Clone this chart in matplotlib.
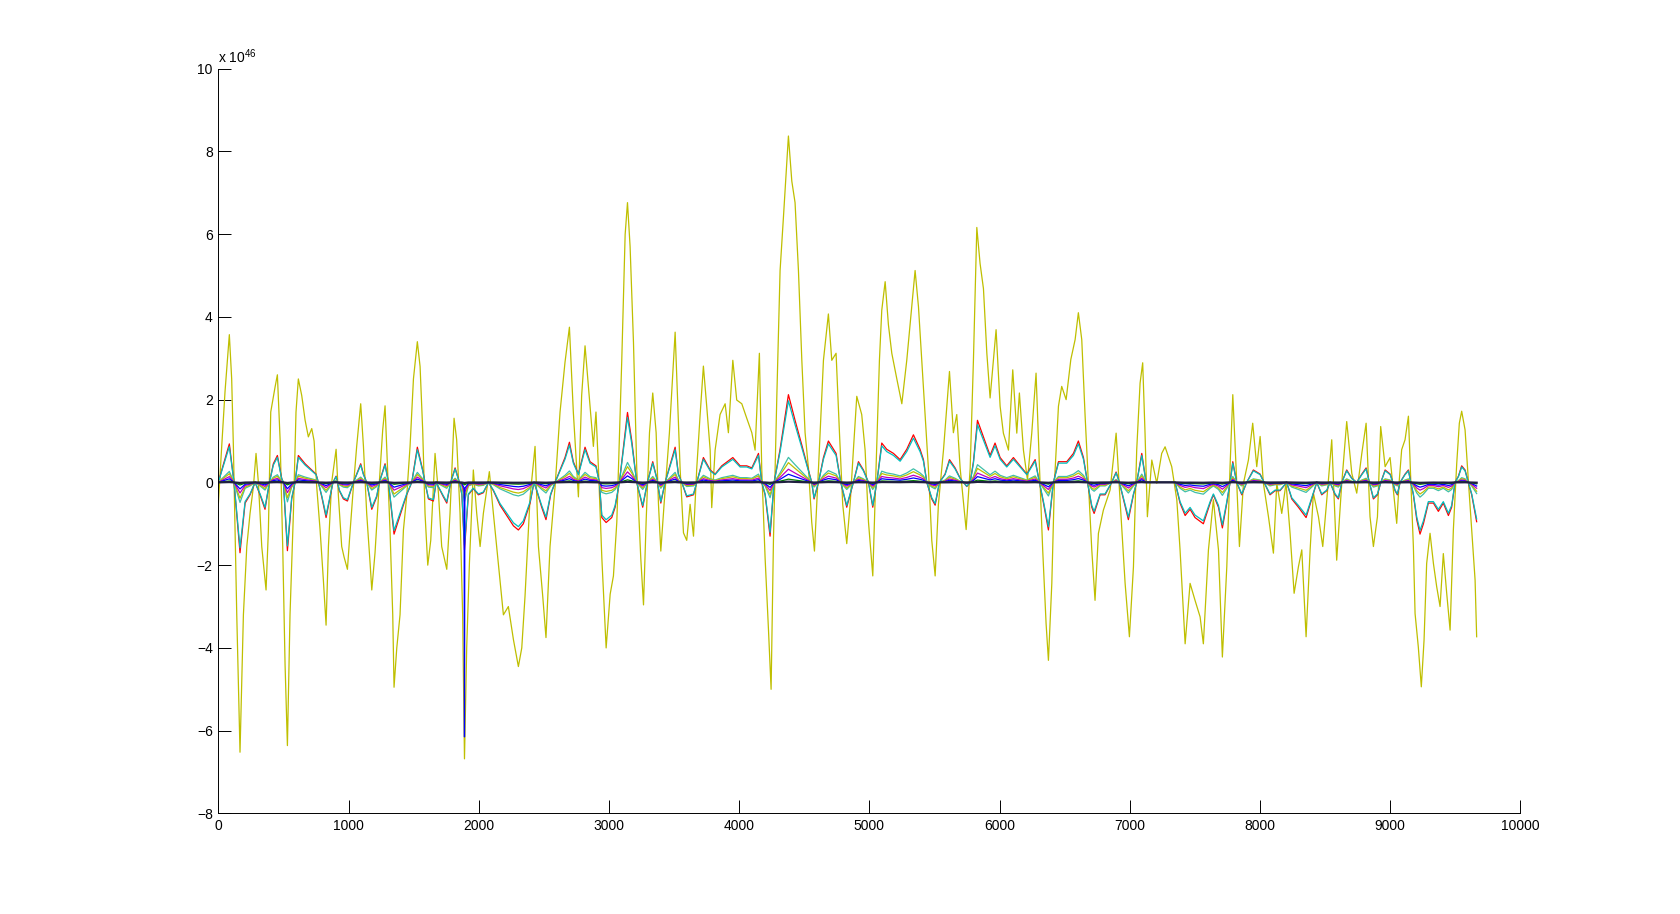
import numpy as np
import matplotlib
matplotlib.use("Agg")
import matplotlib.pyplot as plt

plt.rcParams['font.family'] = ['Liberation Sans', 'DejaVu Sans']
plt.rcParams['mathtext.default'] = 'regular'

# values are in units of 1e46

# big olive series: sample index and value
yellow_x = [0, 26, 51, 84, 102, 115, 141, 166, 192, 218, 243, 269, 289, 307, 333, 366, 384,
            402, 435, 453, 474, 494, 512, 530, 550, 576, 596, 614, 640, 666, 691, 717, 735,
            755, 781, 806, 827, 845, 870, 904, 922, 947, 965, 991, 1011, 1037, 1062, 1093,
            1114, 1139, 1165, 1178, 1203, 1236, 1262, 1280, 1298, 1318, 1339, 1349, 1370,
            1395, 1421, 1446, 1472, 1498, 1528, 1549, 1569, 1587, 1608, 1631, 1664, 1690,
            1715, 1754, 1779, 1810, 1830, 1856, 1876, 1890, 1907, 1928, 1958, 1984, 2010,
            2035, 2081, 2112, 2150, 2189, 2227, 2266, 2304, 2330, 2355, 2394, 2432, 2458,
            2491, 2516, 2547, 2586, 2624, 2662, 2696, 2726, 2765, 2790, 2816, 2842, 2880,
            2900, 2919, 2945, 2978, 3009, 3034, 3060, 3098, 3124, 3142, 3162, 3188, 3213,
            3244, 3265, 3285, 3311, 3336, 3362, 3380, 3398, 3423, 3464, 3508, 3526, 3546,
            3572, 3597, 3623, 3649, 3674, 3700, 3725, 3751, 3777, 3789, 3815, 3853, 3892,
            3917, 3951, 3981, 4020, 4058, 4097, 4122, 4155, 4173, 4199, 4225, 4245, 4263,
            4289, 4314, 4340, 4378, 4404, 4429, 4455, 4481, 4506, 4532, 4557, 4578, 4609,
            4647, 4685, 4711, 4744, 4770, 4795, 4826, 4852, 4877, 4903, 4941, 4967, 4993,
            5026, 5051, 5077, 5095, 5121, 5146, 5172, 5210, 5249, 5287, 5325, 5351, 5377,
            5402, 5428, 5453, 5479, 5505, 5530, 5569, 5615, 5645, 5671, 5697, 5743, 5774,
            5799, 5825, 5850, 5876, 5902, 5927, 5973, 6004, 6029, 6068, 6101, 6132, 6152,
            6183, 6214, 6247, 6280, 6306, 6331, 6357, 6375, 6401, 6421, 6452, 6477, 6511,
            6547, 6580, 6605, 6631, 6657, 6682, 6708, 6733, 6759, 6797, 6849, 6895, 6925,
            6964, 6997, 7028, 7053, 7079, 7099, 7117, 7135, 7169, 7207, 7245, 7271, 7322,
            7361, 7386, 7425, 7463, 7501, 7540, 7565, 7604, 7642, 7681, 7711, 7745, 7770,
            7791, 7816, 7842, 7873, 7911, 7944, 7975, 8001, 8026, 8065, 8103, 8129, 8167,
            8200, 8231, 8262, 8295, 8321, 8354, 8385, 8410, 8449, 8482, 8513, 8551, 8589,
            8628, 8666, 8705, 8743, 8782, 8815, 8845, 8871, 8902, 8927, 8961, 8999, 9024,
            9050, 9070, 9088, 9114, 9140, 9158, 9178, 9191, 9216, 9239, 9260, 9280, 9306,
            9332, 9357, 9383, 9408, 9434, 9460, 9485, 9511, 9531, 9549, 9575, 9600, 9626,
            9652, 9664]
yellow_y = [-0.5, 0.9, 2.2, 3.57, 2.5, 0.87, -3.2, -6.52, -3.2, -1.55, -0.75, -0.1, 0.7, 0.0,
            -1.55, -2.6, -1.15, 1.7, 2.3, 2.6, 1.03, -1.55, -4.4, -6.36, -3.2, -0.75, 1.7,
            2.5, 2.1, 1.5, 1.1, 1.3, 1.0, -0.1, -1.15, -2.35, -3.45, -1.55, 0.0, 0.8, -0.35,
            -1.55, -1.8, -2.1, -1.2, -0.1, 0.87, 1.9, 0.87, -0.75, -1.95, -2.6, -1.7, 0.0,
            1.27, 1.85, 0.46, -1.15, -3.2, -4.95, -4.0, -3.2, -1.15, -0.35, 0.87, 2.5, 3.4,
            2.8, 1.27, -0.75, -2.0, -1.4, 0.7, -0.26, -1.55, -2.1, -0.75, 1.55, 1.03, -0.75,
            -3.2, -6.68, -4.0, -1.95, 0.3, -0.75, -1.55, -0.75, 0.26, -0.75, -1.95, -3.2,
            -3.0, -3.8, -4.45, -4.0, -2.75, -0.35, 0.87, -1.55, -2.75, -3.75, -1.55, -0.1,
            1.7, 2.9, 3.75, 1.7, -0.35, 2.1, 3.3, 2.3, 0.87, 1.7, 0.34, -1.83, -4.0, -2.7,
            -2.26, -0.96, 2.95, 5.99, 6.76, 5.7, 3.38, 0.34, -1.83, -2.96, -0.96, 1.2, 2.16,
            1.2, -0.53, -1.66, -0.53, 1.2, 3.63, 2.08, 0.34, -1.22, -1.4, -0.53, -1.3, 0.34,
            1.64, 2.81, 1.82, 0.78, -0.61, 0.78, 1.64, 1.9, 1.2, 2.95, 1.99, 1.9, 1.55, 1.2,
            0.78, 3.12, 0.34, -1.83, -3.57, -5.0, -1.4, 2.08, 5.12, 6.42, 8.37, 7.28, 6.76,
            5.12, 2.95, 1.2, 0.34, -0.96, -1.66, 0.34, 2.95, 4.07, 2.95, 3.12, 1.2, -0.53,
            -1.48, -0.53, 0.78, 2.08, 1.64, 0.78, -0.96, -2.26, 0.34, 2.95, 4.16, 4.85, 3.81,
            3.12, 2.51, 1.9, 2.95, 4.24, 5.12, 4.24, 2.95, 1.64, 0.34, -1.4, -2.26, -0.53,
            0.78, 2.68, 1.2, 1.64, 0.34, -1.14, 0.34, 2.95, 6.16, 5.29, 4.68, 3.12, 2.04,
            3.69, 1.84, 1.19, 0.78, 2.72, 1.19, 2.16, 0.78, 0.06, 1.19, 2.64, 0.38, -1.63,
            -3.41, -4.3, -2.44, -0.02, 1.84, 2.32, 2.0, 2.97, 3.45, 4.1, 3.45, 1.59, -0.02,
            -1.63, -2.85, -1.23, -0.67, -0.18, 1.19, -0.42, -2.44, -3.73, -2.04, 0.78, 2.4,
            2.89, 1.19, -0.83, 0.54, -0.02, 0.7, 0.86, 0.38, -0.42, -1.63, -3.9, -2.44, -2.85,
            -3.25, -3.9, -1.63, -0.42, -1.63, -4.22, -2.04, 0.38, 2.12, 0.38, -1.55, -0.02,
            0.54, 1.43, 0.38, 1.11, -0.02, -0.83, -1.71, -0.02, -0.75, -0.02, -1.23, -2.68,
            -2.04, -1.63, -3.73, -1.63, -0.26, -0.83, -1.55, -0.42, 1.03, -1.88, -0.02, 1.47,
            0.22, -0.26, 0.7, 1.43, -0.83, -1.55, -0.83, 1.35, 0.38, 0.6, -0.18, -0.99, 0.06,
            0.79, 1.03, 1.6, 0.06, -1.55, -3.17, -3.98, -4.94, -3.81, -1.96, -1.23, -1.96,
            -2.52, -3.0, -1.72, -2.68, -3.57, -1.15, 0.46, 1.43, 1.72, 1.27, 0.06, -1.15,
            -2.36, -3.73]

# the inner group: red curve
red_x = [0, 26, 84, 120, 166, 205, 243, 282, 320, 358, 392, 422, 453, 486, 499, 530, 563, 589,
         614, 666, 717, 750, 768, 794, 827, 858, 880, 904, 915, 929, 960, 991, 1037, 1062,
         1093, 1114, 1139, 1178, 1216, 1236, 1280, 1306, 1349, 1395, 1446, 1485, 1528, 1569,
         1587, 1613, 1651, 1672, 1728, 1754, 1784, 1818, 1851, 1870, 1890, 1920, 1958, 1997,
         2035, 2074, 2112, 2163, 2214, 2266, 2304, 2342, 2394, 2424, 2445, 2483, 2516, 2552,
         2586, 2624, 2662, 2696, 2726, 2765, 2816, 2854, 2900, 2926, 2945, 2978, 3021, 3047,
         3080, 3098, 3142, 3175, 3213, 3259, 3295, 3336, 3367, 3398, 3431, 3508, 3533, 3559,
         3597, 3649, 3674, 3725, 3777, 3815, 3866, 3951, 4007, 4058, 4097, 4148, 4173, 4199,
         4237, 4268, 4314, 4378, 4429, 4481, 4532, 4557, 4575, 4609, 4647, 4685, 4744, 4780,
         4826, 4877, 4916, 4954, 4993, 5026, 5057, 5095, 5133, 5185, 5236, 5287, 5338, 5389,
         5415, 5441, 5479, 5505, 5538, 5581, 5615, 5658, 5697, 5722, 5748, 5774, 5799, 5830,
         5876, 5927, 5965, 6004, 6055, 6106, 6157, 6209, 6273, 6306, 6337, 6375, 6413, 6452,
         6516, 6567, 6605, 6644, 6675, 6708, 6726, 6772, 6810, 6861, 6895, 6920, 6951, 6989,
         7028, 7053, 7092, 7125, 7348, 7386, 7425, 7463, 7501, 7565, 7617, 7642, 7681, 7711,
         7745, 7770, 7791, 7821, 7860, 7898, 7949, 8001, 8031, 8077, 8116, 8154, 8205, 8244,
         8295, 8354, 8397, 8436, 8474, 8513, 8538, 8577, 8602, 8628, 8666, 8705, 8743, 8782,
         8815, 8840, 8871, 8902, 8928, 8961, 9000, 9020, 9037, 9055, 9076, 9114, 9140, 9158,
         9178, 9204, 9229, 9255, 9293, 9332, 9370, 9408, 9447, 9472, 9498, 9524, 9549, 9575,
         9600, 9626, 9664]
red_y = [0, 0.3, 0.93, 0, -1.7, -0.5, -0.3, 0, -0.3, -0.65, 0, 0.45, 0.65, 0.1, 0, -1.65,
         -0.4, 0, 0.65, 0.45, 0.3, 0.2, 0, -0.35, -0.85, -0.35, 0, 0.15, 0, -0.2, -0.4, -0.45,
         0, 0.2, 0.45, 0.2, 0, -0.65, -0.35, 0, 0.45, 0, -1.25, -0.8, -0.3, 0, 0.85, 0.3, 0,
         -0.4, -0.45, 0, -0.35, -0.5, 0, 0.35, 0, -0.3, -1.63, -0.3, -0.15, -0.3, -0.25, 0,
         -0.2, -0.55, -0.8, -1.05, -1.15, -1.0, -0.5, 0, -0.2, -0.6, -0.9, -0.3, 0, 0.3, 0.6,
         0.97, 0.5, 0.2, 0.85, 0.5, 0.4, 0, -0.85, -0.97, -0.85, -0.6, 0, 0.5, 1.69, 1.0, 0,
         -0.6, 0, 0.5, 0.1, -0.5, 0, 0.85, 0.2, 0, -0.35, -0.3, 0, 0.6, 0.3, 0.2, 0.4, 0.6,
         0.4, 0.4, 0.35, 0.7, 0, -0.3, -1.3, 0, 0.8, 2.12, 1.5, 0.9, 0.3, 0, -0.4, 0, 0.6,
         1.0, 0.7, 0, -0.6, 0, 0.5, 0.3, 0, -0.6, 0, 0.95, 0.8, 0.7, 0.55, 0.8, 1.15, 0.8,
         0.55, 0, -0.4, -0.55, 0, 0.2, 0.55, 0.35, 0.1, 0, -0.1, 0, 0.5, 1.5, 1.1, 0.65,
         0.95, 0.6, 0.4, 0.6, 0.4, 0.2, 0.55, 0, -0.5, -1.15, 0, 0.5, 0.5, 0.7, 1.0, 0.6, 0,
         -0.6, -0.75, -0.3, -0.3, 0, 0.25, 0, -0.4, -0.9, -0.3, 0, 0.7, 0, 0, -0.5, -0.8,
         -0.65, -0.85, -1.0, -0.5, -0.3, -0.6, -1.1, -0.5, 0, 0.5, 0, -0.3, 0, 0.3, 0.2, 0,
         -0.3, -0.2, -0.2, 0, -0.4, -0.6, -0.85, -0.4, 0, -0.3, -0.2, 0, -0.3, -0.4, 0, 0.3,
         0.1, 0, 0.2, 0.35, 0, -0.4, -0.3, 0, 0.3, 0.2, 0, -0.2, -0.3, 0, 0.2, 0.3, 0, -0.3,
         -0.9, -1.25, -1.0, -0.5, -0.5, -0.7, -0.5, -0.8, -0.6, 0, 0.15, 0.4, 0.3, 0, -0.3,
         -0.95]

# the other inner curves have the red shape; their height relative to red,
# measured at the big bump near 4400 (red 2.14, cyan 1.98, 0.61, 0.48, 0.32, 0.20, 0.08, 0)
inner_names = ['red', 'cyan', 'teal', 'olive', 'magenta', 'blue', 'darkgreen', 'black']
inner_ratio = [1.0, 0.93, 0.285, 0.225, 0.15, 0.093, 0.037, 0.008]
inner_colors = ['#ff0000', '#00bfbf', '#3fbfa8', '#bfbf00', '#bf00bf', '#0000ff',
                '#008000', '#202040']

# single-sample spike of the blue curve
spike_x = [1887, 1890, 1893]
spike_y = [-0.15, -6.15, -0.15]

fig = plt.figure(figsize=(16.8, 9.14), dpi=100)
ax = fig.add_axes([0.13, 0.11, 0.775, 0.815])

ax.plot(yellow_x, yellow_y, color='#bfbf00', lw=0.9)

red_x = np.array(red_x)
red_y = np.array(red_y)
for name, r, c in zip(inner_names, inner_ratio, inner_colors):
    lw = 1.6 if name == 'black' else 0.9
    ax.plot(red_x, red_y * r, color=c, lw=lw)
ax.plot(spike_x, spike_y, color='#0000ff', lw=0.9)

ax.set_xlim(0, 10000)
ax.set_ylim(-8, 10)
ax.set_xticks(np.arange(0, 10001, 1000))
ax.set_yticks(np.arange(-8, 11, 2))
ax.tick_params(direction='in', length=9.5, width=0.7, labelsize=10, colors='black')
ax.tick_params(axis='y', pad=4)
ax.tick_params(axis='x', pad=4)
for s in ['top', 'right']:
    ax.spines[s].set_visible(False)
for s in ['left', 'bottom']:
    ax.spines[s].set_linewidth(0.7)

ax.text(0, 1.004, 'x 10$^{46}$', transform=ax.transAxes, ha='left', va='bottom', fontsize=10)

plt.savefig('out.png', dpi=100)
